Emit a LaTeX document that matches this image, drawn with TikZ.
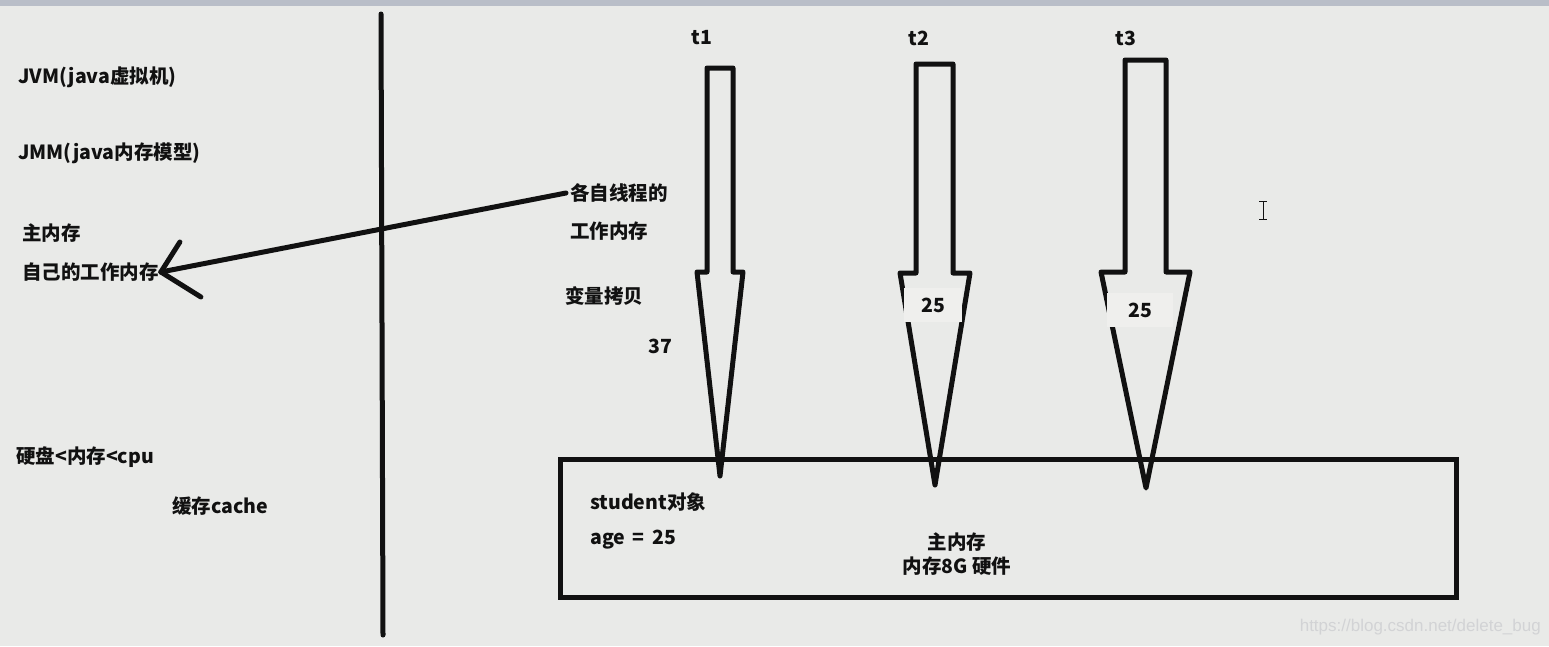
\documentclass[tikz,border=0pt]{standalone}
\usepackage{fontspec}
\setmainfont{Noto Sans CJK SC}
\setsansfont{Liberation Sans}
\definecolor{paintbg}{HTML}{E9EAE8}
\definecolor{paintbar}{HTML}{B9BEC8}
\definecolor{paintink}{HTML}{111111}
\definecolor{painterase}{HTML}{EFEFED}
\definecolor{markgray}{HTML}{D2D3D5}
\tikzset{
  lbl/.style={anchor=west, inner sep=0pt, text=paintink, font=\fontsize{19.5}{22}\selectfont\bfseries},
  pen/.style={paintink, line width=5pt, line cap=round},
  thread/.style={paintink, line width=5pt, line join=round}
}

\begin{document}
\begin{tikzpicture}[x=1pt, y=-1pt]
\useasboundingbox (0,0) rectangle (1549,646);
\fill[paintbg] (0,0) rectangle (1549,646);
\fill[paintbar] (0,0) rectangle (1549,6);

% left column
\node[lbl] (jvm) at (18,77) {JVM(java虚拟机)};
\node[lbl] (jmm) at (18,153) {JMM(java内存模型)};
\node[lbl] (mainmem) at (22,233) {主内存};
\node[lbl] (ownmem) at (22,272) {自己的工作内存};
\node[lbl] (speed) at (16,457) {硬盘<内存<cpu};
\node[lbl] (cache) at (172,506) {缓存cache};

\draw[pen] (381,14) -- (383,635);

% working memory of each thread
\node[lbl] (each) at (570,193) {各自线程的};
\node[lbl] (work) at (570,231) {工作内存};
\node[lbl] (copy) at (565,296) {变量拷贝};
\node[lbl] (v37) at (648,346) {37};

\draw[pen] ([xshift=-4pt]each.west) -- ([xshift=2pt]ownmem.east);
\draw[pen] ([xshift=2pt]ownmem.east) -- ++(19,-30);
\draw[pen] ([xshift=2pt]ownmem.east) -- ++(40,25);

% threads
\node[lbl, anchor=center] (t1) at (702,38) {t1};
\node[lbl, anchor=center] (t2) at (919,38) {t2};
\node[lbl, anchor=center] (t3) at (1126,38) {t3};

\draw[thread] (720,476) -- (697,272) -- (707,272) -- (707,68) -- (733,68)
  -- (733,272) -- (743,272) -- cycle;
\draw[thread] (935,485) -- (900,273) -- (916,273) -- (916,64) -- (953,64)
  -- (953,273) -- (970,273) -- cycle;
\draw[thread] (1146,488) -- (1101,272) -- (1125,272) -- (1125,60) -- (1166,60)
  -- (1166,272) -- (1190,272) -- cycle;

\node[lbl, anchor=center, fill=painterase, minimum width=58pt, minimum height=34pt] (c2) at (933,305) {25};
\node[lbl, anchor=center, fill=painterase, minimum width=66pt, minimum height=34pt] (c3) at (1140,310) {25};

% main memory
\node[draw=paintink, line width=5pt, minimum width=896pt, minimum height=138pt] (box) at (1008,528) {};
\node[lbl] (student) at (590,502) {student对象};
\node[lbl] (age) at (590,540) {age \,=\, 25};
\node[lbl, anchor=center, align=center, font=\fontsize{19.5}{24}\selectfont\bfseries] (hw) at (957,554) {主内存\\内存8G 硬件};

% cursor and watermark
\draw[paintink, line width=0.8pt] (1263,201) -- (1263,219) (1259,201) -- (1267,201) (1259,219) -- (1267,219);
\node[anchor=east, inner sep=0pt, text=markgray, font=\sffamily\fontsize{17}{17}\selectfont] (mark) at (1541,627) {https://blog.csdn.net/delete\_bug};
\end{tikzpicture}
\end{document}
